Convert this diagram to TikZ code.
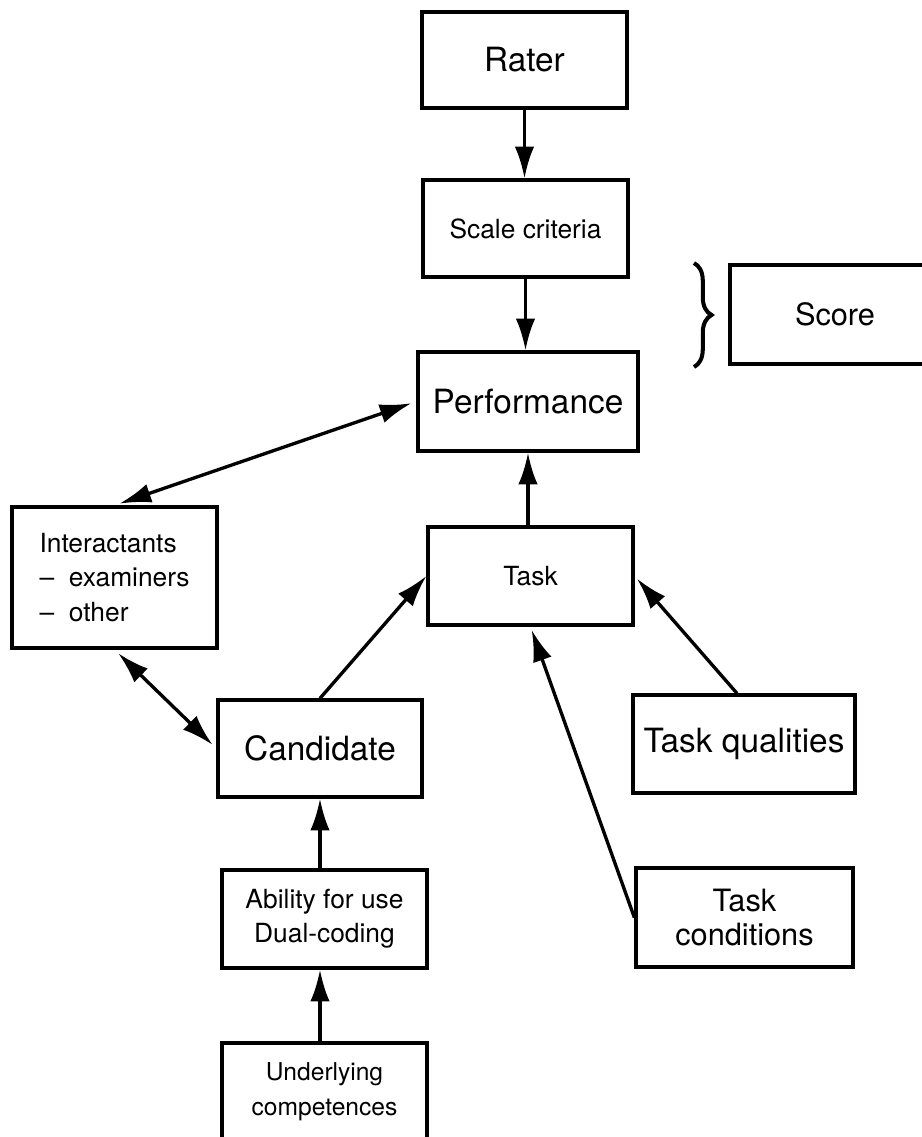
\documentclass[tikz,border=0pt]{standalone}
\usepackage{fontspec}
\setmainfont{TeX Gyre Heros}
\usetikzlibrary{arrows.meta,decorations.pathreplacing}

\tikzset{
  box/.style={draw, line width=1.9pt, inner sep=2pt, align=center,
    minimum width=4.1cm, minimum height=1.96cm},
  bigfont/.style={font=\fontsize{19}{23}\selectfont},
  midfont/.style={font=\fontsize{17.5}{19}\selectfont},
  smallfont/.style={font=\fontsize{15}{19.5}\selectfont},
  arr/.style={line width=1.9pt, >={Latex[length=18pt,width=11pt]}}
}

\begin{document}
\begin{tikzpicture}[x=0.02cm, y=-0.02cm]
    \useasboundingbox (0,0) rectangle (922,1137);
    \clip (0,0) rectangle (922,1137);

    \node [box, bigfont, minimum height=1.92cm] (rater) at (524.5,60) {Rater};
    \node [box, smallfont, minimum height=1.94cm] (scale) at (525.5,228.5) {Scale criteria};
    \node [box, bigfont, minimum width=4.4cm, minimum height=1.98cm] (perf) at (528,401.5) {Performance};
    \node [box, midfont, minimum width=4.2cm, minimum height=1.98cm] (score) at (835,314.5) {Score};
    \node [box, smallfont, align=left, minimum height=2.82cm] (inter) at (114.5,577.5)
        {Interactants\\--~~examiners\\--~~other};
    \node [box, smallfont] (task) at (530.5,576) {Task};
    \node [box, bigfont, minimum width=4.08cm, minimum height=1.94cm] (cand) at (320,748.5) {Candidate};
    \node [box, bigfont, minimum width=4.44cm] (tq) at (744,744) {Task qualities};
    \node [box, smallfont] (abil) at (324.5,919) {Ability for use\\Dual-coding};
    \node [box, midfont, minimum width=4.34cm, minimum height=1.98cm] (tc) at (744.5,917.5) {Task\\conditions};
    \node [box, smallfont, font=\fontsize{14}{20}\selectfont] (under) at (324.5,1092) {Underlying\\competences};

    \draw [line width=2.3pt, decorate, decoration={brace, amplitude=10pt}] (694,263) -- (694,367);

    \draw [arr, ->] (rater.south) -- (rater.south |- scale.north);
    \draw [arr, ->] (scale.south) -- (scale.south |- perf.north);
    \draw [arr, ->] (task.north -| perf.south) -- (perf.south);
    \draw [arr, <->, shorten <=3pt, shorten >=3pt] (inter.north) -- (perf.west);
    \draw [arr, <->, shorten <=3pt, shorten >=3pt] (inter.south) -- (cand.west);
    \draw [arr, ->] (cand.north) -- (task.west);
    \draw [arr, ->, shorten >=2pt] ([xshift=-0.14cm]tq.north) -- (task.east);
    \draw [arr, ->, shorten >=2pt] (tc.west) -- (task.south);
    \draw [arr, ->] (abil.north -| cand.south) -- (cand.south);
    \draw [arr, ->] (under.north -| cand.south) -- (abil.south -| cand.south);

\end{tikzpicture}
\end{document}
